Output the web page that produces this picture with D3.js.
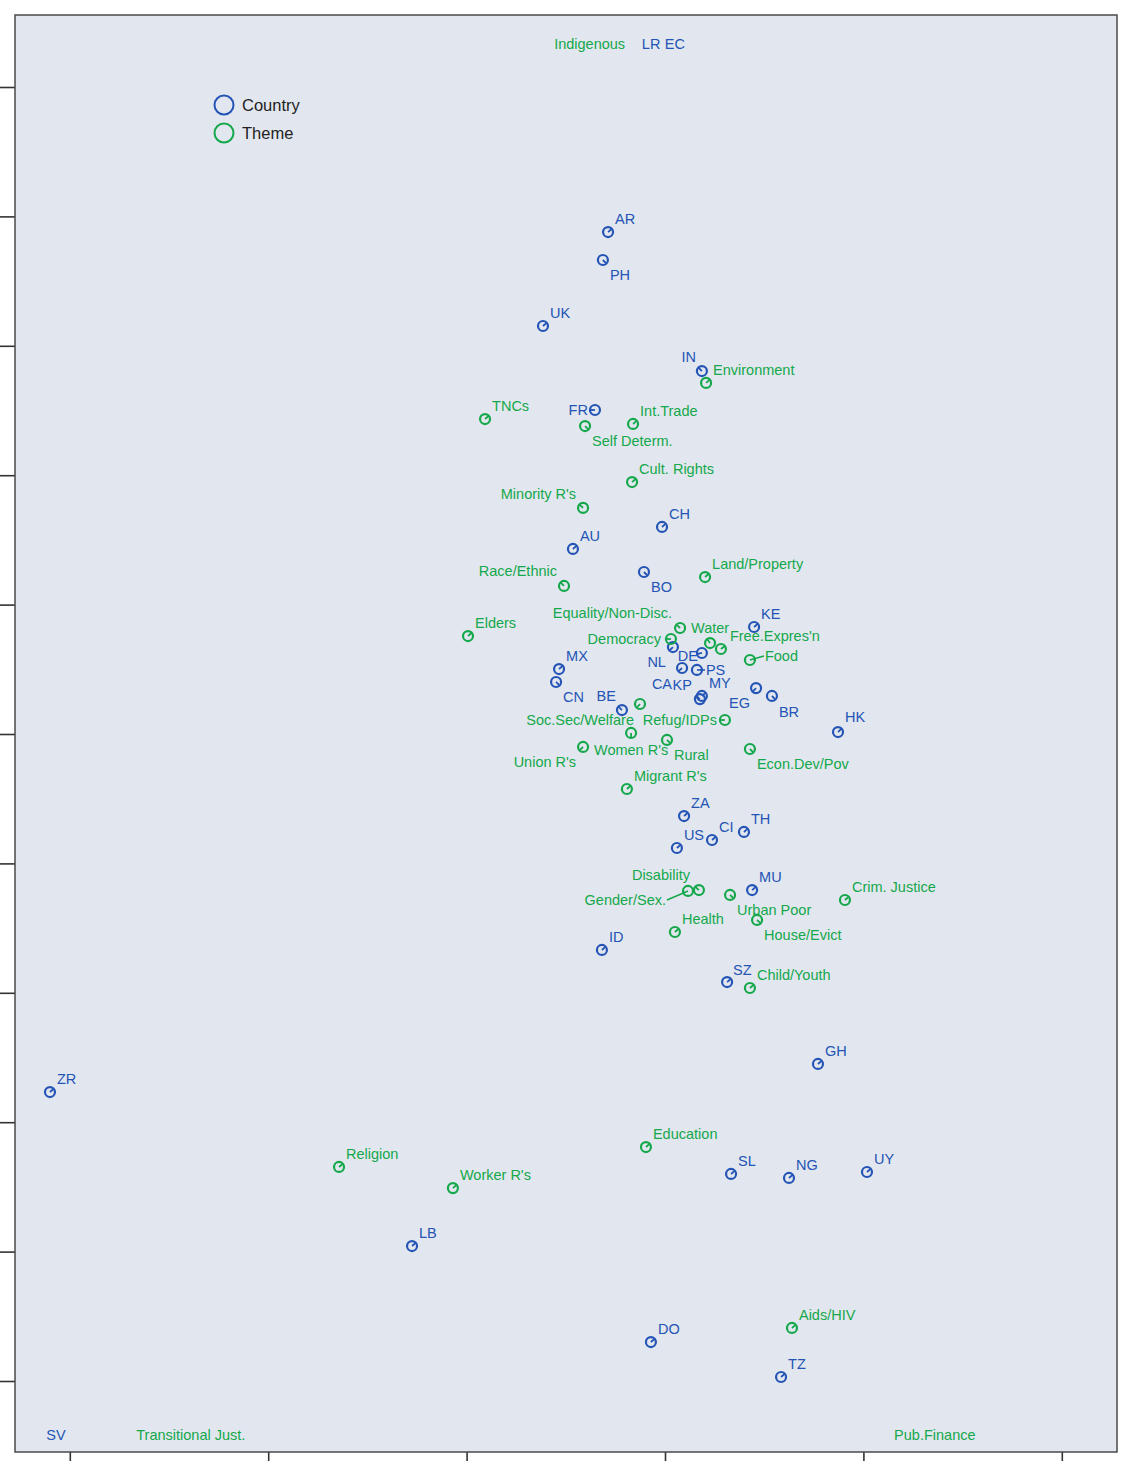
<!DOCTYPE html>
<html>
<head>
<meta charset="utf-8">
<script src="https://cdn.jsdelivr.net/npm/d3@7"></script>
<style>
  body { margin: 0; background: #fff; }
  svg text { font-family: "Liberation Sans", Arial, sans-serif; }
</style>
</head>
<body>
<div id="chart-area"></div>
<script>
// country points (two-letter codes)
const countryCodes = ["AR", "PH", "UK", "IN", "FR", "CH", "AU", "BO", "KE", "NL", "DE", "CA", "PS", "KP", "MY",
    "EG", "BR", "HK", "MX", "CN", "BE", "ZA", "US", "CI", "TH", "MU", "ID", "SZ", "GH", "ZR", "SL", "NG", "UY",
    "LB", "DO", "TZ"];
const countryX = [-0.287, -0.313, -0.615, 0.186, -0.353, -0.015, -0.464, -0.106, 0.449, 0.040, 0.186, 0.086, 0.161, 0.176, 0.186,
    0.459, 0.539, 0.872, -0.534, -0.549, -0.217, 0.096, 0.060, 0.237, 0.398, 0.439, -0.318, 0.313, 0.771, -3.100, 0.333, 0.625, 1.018,
    -1.275, -0.071, 0.585];
const countryY = [3.879, 3.663, 3.153, 2.805, 2.504, 1.600, 1.430, 1.252, 0.827, 0.672, 0.626, 0.510, 0.495, 0.270, 0.294,
    0.355, 0.294, 0.015, 0.502, 0.402, 0.185, -0.634, -0.881, -0.819, -0.757, -1.206, -1.669, -1.917, -2.550, -2.767, -3.400, -3.431, -3.385,
    -3.957, -4.699, -4.969];

// theme points
const themeNames = ["Environment", "TNCs", "Self Determ.", "Int.Trade", "Cult. Rights", "Minority R's", "Race/Ethnic",
    "Land/Property", "Elders", "Equality/Non-Disc.", "Water", "Free.Expres'n", "Democracy", "Food", "Soc.Sec/Welfare",
    "Refug/IDPs", "Women R's", "Rural", "Union R's", "Econ.Dev/Pov", "Migrant R's", "Disability", "Gender/Sex.",
    "Urban Poor", "House/Evict", "Crim. Justice", "Health", "Child/Youth", "Education", "Religion", "Worker R's", "Aids/HIV"];
const themeX = [0.207, -0.907, -0.403, -0.161, -0.166, -0.413, -0.509,
    0.202, -0.993, 0.076, 0.227, 0.282, 0.030, 0.428, -0.126,
    0.302, -0.171, 0.010, -0.413, 0.428, -0.192, 0.171, 0.116,
    0.328, 0.464, 0.907, 0.050, 0.428, -0.096, -1.643, -1.069, 0.640];
const themeY = [2.713, 2.434, 2.380, 2.396, 1.947, 1.747, 1.144,
    1.213, 0.757, 0.819, 0.703, 0.657, 0.734, 0.572, 0.232,
    0.108, 0.008, -0.046, -0.100, -0.116, -0.425, -1.206, -1.213,
    -1.244, -1.437, -1.283, -1.530, -1.963, -3.192, -3.346, -3.509, -4.590];

// points lying outside the plotted range (only their labels show, pinned to the edge)
const outsideNames = ["Indigenous", "LR", "EC", "SV", "Transitional Just.", "Pub.Finance"];
const outsideTypes = ["theme", "country", "country", "country", "theme", "theme"];
const outsideX = [-0.38, -0.07, 0.05, -3.07, -2.39, 1.36];
const outsideY = [6.2, 6.2, 6.2, -6.2, -6.2, -6.2];

const xTicks = [-3, -2, -1, 0, 1, 2];
const yTicks = [-5, -4, -3, -2, -1, 0, 1, 2, 3, 4, 5];

// label placement: [dx, dy (baseline), anchor, leader line]
const labelPos = {
    "PH": [7, 20], "IN": [-6, -9, "end"], "FR": [-7, 5, "end"], "BO": [7, 20],
    "NL": [-7, 20, "end"], "DE": [-4, 8, "end"], "CA": [-10, 21, "end"], "PS": [9, 5, "start", true],
    "KP": [-8, -9, "end"], "EG": [-6, 20, "end"], "BR": [7, 21], "HK": [7, -10], "CN": [7, 20],
    "BE": [-6, -9, "end"], "SZ": [6, -7],
    "Self Determ.": [7, 20], "Minority R's": [-7, -9, "end"], "Race/Ethnic": [-7, -10, "end"],
    "Equality/Non-Disc.": [-8, -10, "end"], "Water": [-19, -10], "Free.Expres'n": [9, -8], "Democracy": [-10, 5, "end"],
    "Food": [15, 1, "start", true], "Soc.Sec/Welfare": [-6, 21, "end"], "Refug/IDPs": [-8, 5, "end"],
    "Women R's": [0, 22, "middle"], "Rural": [7, 20], "Union R's": [-7, 20, "end"], "Econ.Dev/Pov": [7, 20],
    "Disability": [-9, -10, "end"], "Gender/Sex.": [-22, 14, "end", true], "Urban Poor": [7, 20],
    "House/Evict": [7, 20]
};

const blue = "#2454b5", green = "#14a84b";

let W = 1121, H = 1461;
let plot = { left: 15, top: 15, right: 1117, bottom: 1452 };

let svg = d3.select("#chart-area").append("svg")
    .attr("width", W)
    .attr("height", H);

let x = d3.scaleLinear()
    .domain([(plot.left - 665) / 198.4, (plot.right - 665) / 198.4])
    .range([plot.left, plot.right]);
let y = d3.scaleLinear()
    .domain([(734 - plot.bottom) / 129.4, (734 - plot.top) / 129.4])
    .range([plot.bottom, plot.top]);

svg.append("rect")
    .attr("x", plot.left).attr("y", plot.top)
    .attr("width", plot.right - plot.left).attr("height", plot.bottom - plot.top)
    .attr("fill", "#e2e7ef");

svg.append("defs").append("clipPath").attr("id", "clip")
    .append("rect")
    .attr("x", plot.left).attr("y", plot.top)
    .attr("width", plot.right - plot.left).attr("height", plot.bottom - plot.top);

// axes: ticks only, no labels
let yAxis = d3.axisLeft(y).tickValues(yTicks).tickSize(15).tickFormat("");
let xAxis = d3.axisBottom(x).tickValues(xTicks).tickSize(10).tickFormat("");

let yAxisGroup = svg.append("g")
    .attr("transform", "translate(" + plot.left + ",0)")
    .call(yAxis);
let xAxisGroup = svg.append("g")
    .attr("transform", "translate(0," + plot.bottom + ")")
    .call(xAxis);
svg.selectAll(".domain").remove();
svg.selectAll(".tick line").attr("stroke", "#333").attr("stroke-width", 1.6);

// build point table
let points = [];
countryCodes.forEach((c, i) => points.push({ name: c, x: countryX[i], y: countryY[i], type: "country" }));
themeNames.forEach((t, i) => points.push({ name: t, x: themeX[i], y: themeY[i], type: "theme" }));

let r = 5;
let g = svg.append("g").attr("clip-path", "url(#clip)");

points.forEach(function (d) {
    let p = labelPos[d.name] || [7, -8, "start"];
    let col = d.type === "country" ? blue : green;
    let cx = x(d.x), cy = y(d.y);
    let anchor = p[2] || "start";
    let sgn = anchor === "start" ? 1 : (anchor === "end" ? -1 : 0);

    // direction toward the label, drawn as a short tick inside the circle
    let vx = p[0] + sgn * 8, vy = p[1] - 5;
    let len = Math.sqrt(vx * vx + vy * vy);
    let ux = vx / len, uy = vy / len;

    g.append("circle")
        .attr("cx", cx).attr("cy", cy).attr("r", r)
        .attr("fill", "none")
        .attr("stroke", col)
        .attr("stroke-width", 2.2);

    if (p[3]) {
        // leader line to a label placed a bit away
        let lx = cx + p[0] - sgn * 1, ly = cy + p[1] - 5;
        g.append("line")
            .attr("x1", cx).attr("y1", cy)
            .attr("x2", lx).attr("y2", ly)
            .attr("stroke", col).attr("stroke-width", 1.6);
    } else {
        g.append("line")
            .attr("x1", cx).attr("y1", cy)
            .attr("x2", cx + ux * r).attr("y2", cy + uy * r)
            .attr("stroke", col).attr("stroke-width", 1.8);
    }

    svg.append("text")
        .attr("x", cx + p[0])
        .attr("y", cy + p[1])
        .attr("text-anchor", anchor)
        .attr("fill", col)
        .style("font-size", "14.5px")
        .text(d.name);
});

// labels of off-range points, pinned to the plot edge
outsideNames.forEach(function (n, i) {
    let top = outsideY[i] > 0;
    svg.append("text")
        .attr("x", x(outsideX[i]))
        .attr("y", top ? plot.top + 34 : plot.bottom - 12)
        .attr("text-anchor", "middle")
        .attr("fill", outsideTypes[i] === "country" ? blue : green)
        .style("font-size", "14.5px")
        .text(n);
});

// plot frame
svg.append("rect")
    .attr("x", plot.left).attr("y", plot.top)
    .attr("width", plot.right - plot.left).attr("height", plot.bottom - plot.top)
    .attr("fill", "none")
    .attr("stroke", "#4a4a4a")
    .attr("stroke-width", 1.5);

// legend
let legend = svg.append("g").attr("transform", "translate(224,105)");
[["Country", blue], ["Theme", green]].forEach(function (l, i) {
    legend.append("circle")
        .attr("cx", 0).attr("cy", i * 28).attr("r", 9.5)
        .attr("fill", "none")
        .attr("stroke", l[1])
        .attr("stroke-width", 2);
    legend.append("text")
        .attr("x", 18).attr("y", i * 28 + 6)
        .attr("fill", "#222")
        .style("font-size", "16.5px")
        .text(l[0]);
});
</script>
</body>
</html>
